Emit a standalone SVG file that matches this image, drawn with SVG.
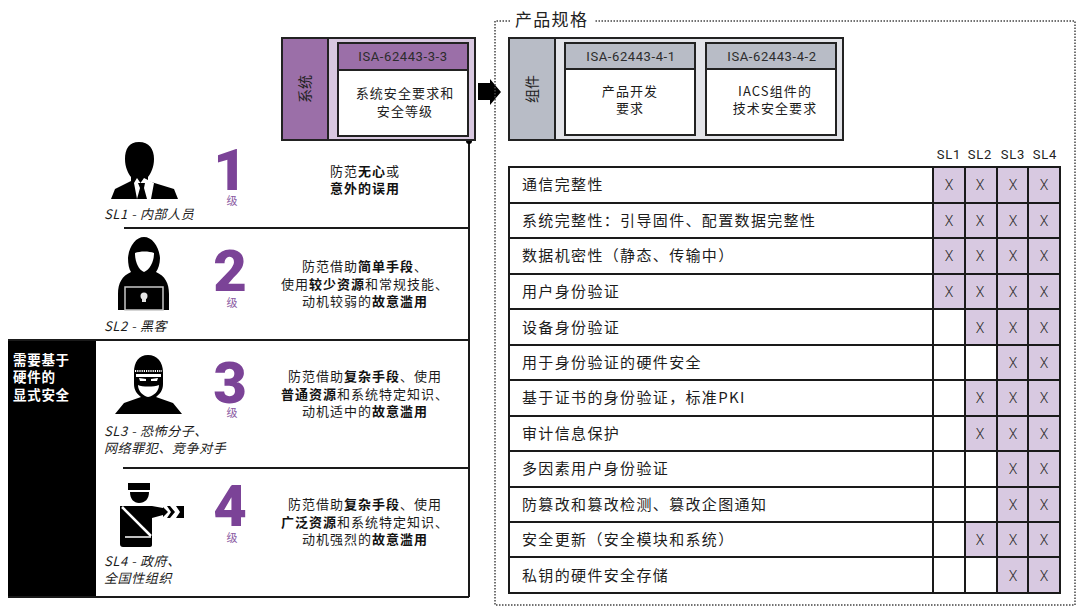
<svg xmlns="http://www.w3.org/2000/svg" width="1080" height="614" viewBox="0 0 1080 614">
<style>
text{font-family:"Noto Sans CJK SC","Liberation Sans",sans-serif;fill:#1c1c1c}
.b{font-weight:700;fill:#111}
.d{font-size:13px;letter-spacing:1px;text-anchor:middle}
.iso{font-family:Roboto,"Noto Sans CJK SC",sans-serif;font-size:13px;letter-spacing:.6px;text-anchor:middle;fill:#2c2c2c}
.box{font-size:13px;letter-spacing:1.100px;text-anchor:middle}
.row{font-size:15px;letter-spacing:1.350px}
.num{font-family:Roboto,Inter,sans-serif;font-weight:900;font-size:58px;fill:#7b4397;text-anchor:middle}
.lvl{font-size:11px;fill:#8a5aa2;text-anchor:middle}
.who{font-size:13px;font-style:italic;letter-spacing:.6px}
.sl{font-family:Roboto,sans-serif;font-size:13px;letter-spacing:.8px;text-anchor:middle;fill:#222}
.x{font-family:Roboto,sans-serif;font-size:14px;font-weight:300;text-anchor:middle;fill:#2c2c2c}
.ln{stroke:#1a1a1a;stroke-width:2;fill:none}
.cell{fill:#d8c9e1}
</style>

<g id="frame-left">
<rect x="8" y="340" width="88" height="257" fill="#000"/>
<path class="ln" d="M8 340H469M124 228H469M123 468H469M8 597H469M469 141V597"/>
<circle cx="469" cy="141" r="3" fill="#000"/>
<text x="13" y="365" style="font-size:13.500px;font-weight:700;fill:#fff;letter-spacing:.7px">需要基于</text>
<text x="13" y="382" style="font-size:13.500px;font-weight:700;fill:#fff;letter-spacing:.7px">硬件的</text>
<text x="13" y="400" style="font-size:13.500px;font-weight:700;fill:#fff;letter-spacing:.7px">显式安全</text>
</g>

<g id="system">
<rect x="282" y="38" width="193" height="102" fill="#d8c8e0" stroke="#222" stroke-width="2"/>
<rect x="282" y="38" width="46" height="102" fill="#9b6fa8" stroke="#222" stroke-width="2"/>
<text transform="translate(310 89) rotate(-90)" style="font-size:14px;text-anchor:middle;fill:#222">系统</text>
<rect x="338" y="43" width="130" height="93" fill="#fff" stroke="#222" stroke-width="2"/>
<rect x="338" y="43" width="130" height="27" fill="#9b6fa8" stroke="#222" stroke-width="2"/>
<text class="iso" x="403" y="61">ISA-62443-3-3</text>
<text class="box" x="405" y="98">系统安全要求和</text>
<text class="box" x="405" y="116">安全等级</text>
</g>

<g id="arrow">
<path d="M478 83H490V79L501 92L490 105V100H478Z" fill="#000"/>
</g>

<g id="spec-frame">
<path d="M510 21H495V605H1075V21H594" fill="none" stroke="#444" stroke-width="1.500" stroke-dasharray="1.500 1.500"/>
<text x="515" y="26" style="font-size:17px;letter-spacing:1.300px;fill:#222">产品规格</text>
</g>

<g id="component">
<rect x="509" y="38" width="334" height="102" fill="#e3e4e9" stroke="#222" stroke-width="2"/>
<rect x="509" y="38" width="46" height="102" fill="#b8bcc6" stroke="#222" stroke-width="2"/>
<text transform="translate(537 89) rotate(-90)" style="font-size:14px;text-anchor:middle;fill:#222">组件</text>
<rect x="565" y="43" width="130" height="92" fill="#fff" stroke="#222" stroke-width="2"/>
<rect x="565" y="43" width="130" height="26" fill="#b8bcc6" stroke="#222" stroke-width="2"/>
<text class="iso" x="631" y="61">ISA-62443-4-1</text>
<text class="box" x="630" y="96">产品开发</text>
<text class="box" x="630" y="113">要求</text>
<rect x="706" y="43" width="130" height="92" fill="#fff" stroke="#222" stroke-width="2"/>
<rect x="706" y="43" width="130" height="26" fill="#b8bcc6" stroke="#222" stroke-width="2"/>
<text class="iso" x="772" y="61">ISA-62443-4-2</text>
<text class="box" x="775" y="96">IACS组件的</text>
<text class="box" x="775" y="113">技术安全要求</text>
</g>

<g id="icon-sl1">
<path d="M139 142C149 142 154 149 154 159C154 167 151 173 148 177V181L174 189L178 199H111L115 189L131 181V177C128 173 125 167 125 159C125 149 129 142 139 142Z" fill="#000"/>
<path d="M136 178L139.500 183L143 178L153 183L150 199H136L133 183Z" fill="#fff" transform="translate(1 0)"/>
<path d="M137 183L144 183L143 188L146 199H136L139 188Z" fill="#000" transform="translate(1 0)"/>
<text class="who" x="104" y="219">SL1 - 内部人员</text>
</g>
<g id="icon-sl2">
<path d="M144 237C152 237 159 246 160 258C160 264 158 269 156 272C165 276 169 283 169 294V310H118V294C118 283 122 276 131 272C129 269 128 264 128 258C129 246 136 237 144 237Z" fill="#000"/>
<path d="M135 253C140 251 149 251 154 253C154 263 149 270 144 272C139 270 135 263 135 253Z" fill="#fff"/>
<rect x="125" y="287" width="38" height="23" fill="#000" stroke="#c8c8c8" stroke-width="1.500"/>
<circle cx="144" cy="296" r="3.500" fill="#e4e4e4"/>
<rect x="142" y="299" width="4" height="3" fill="#e4e4e4"/>
<text class="who" x="104" y="331">SL2 - 黑客</text>
</g>
<g id="icon-sl3">
<path d="M148 355C157 355 163 362 163 372V384C163 390 160 394 156 397L173 403L182 414H115L124 403L141 397C137 394 134 390 134 384V372C134 362 139 355 148 355Z" fill="#000"/>
<path d="M135 371H162" stroke="#fff" stroke-width="2" stroke-dasharray="1.200 1"/>
<path d="M136 374H161V377H136Z" fill="#fff"/>
<path d="M138 385C142 387 154 387 159 385C159 391 154 396 148 397C143 396 138 391 138 385Z" fill="#fff"/>
<path d="M139 378L146 379V381H140ZM151 379L158 378L157 381H151Z" fill="#fff"/>
<text class="who" x="104" y="436">SL3 - 恐怖分子、</text>
<text class="who" x="104" y="453">网络罪犯、竞争对手</text>
</g>
<g id="icon-sl4">
<path d="M128 483H150V490H128ZM130 492H149C149 499 145 503 139 503C134 503 130 499 130 492Z" fill="#000"/>
<path d="M120 506L152 506L163 508V515L152 518V545C152 546 151 547 150 547H123C121 547 120 546 120 544Z" fill="#000"/>
<path d="M122 507L151 536" stroke="#fff" stroke-width="2.500"/>
<path d="M125 537H151" stroke="#fff" stroke-width="1.500"/>
<path d="M163 507L168 512L163 517ZM167 506H170L175 512L170 518H167L171 512ZM176 506H184V518H176L180 512Z" fill="#000"/>
<text class="who" x="104" y="566">SL4 - 政府、</text>
<text class="who" x="104" y="583">全国性组织</text>
</g>

<g id="level-1">
<text class="num" x="230" y="190">1</text>
<text class="lvl" x="232" y="205">级</text>
<text class="d" x="365" y="176">防范<tspan class="b">无心</tspan>或</text>
<text class="d b" x="365" y="193">意外的误用</text>
</g>
<g id="level-2">
<text class="num" x="230" y="291">2</text>
<text class="lvl" x="232" y="307">级</text>
<text class="d" x="365" y="271">防范借助<tspan class="b">简单手段</tspan>、</text>
<text class="d" x="365" y="289">使用<tspan class="b">较少资源</tspan>和常规技能、</text>
<text class="d" x="365" y="306">动机较弱的<tspan class="b">故意滥用</tspan></text>
</g>
<g id="level-3">
<text class="num" x="230" y="403">3</text>
<text class="lvl" x="232" y="417">级</text>
<text class="d" x="365" y="381">防范借助<tspan class="b">复杂手段</tspan>、使用</text>
<text class="d" x="365" y="399"><tspan class="b">普通资源</tspan>和系统特定知识、</text>
<text class="d" x="365" y="416">动机适中的<tspan class="b">故意滥用</tspan></text>
</g>
<g id="level-4">
<text class="num" x="230" y="526">4</text>
<text class="lvl" x="232" y="542">级</text>
<text class="d" x="365" y="509">防范借助<tspan class="b">复杂手段</tspan>、使用</text>
<text class="d" x="365" y="527"><tspan class="b">广泛资源</tspan>和系统特定知识、</text>
<text class="d" x="365" y="544">动机强烈的<tspan class="b">故意滥用</tspan></text>
</g>

<g id="table">
<rect x="509" y="167" width="551" height="426" fill="#fff"/>
<path class="cell" d="M933 167H1060V309H933ZM965 309H1060V345H965ZM997 345H1060V380H997ZM965 380H1060V451H965ZM997 451H1060V522H997ZM965 522H1060V557H965ZM997 557H1060V593H997Z"/>
<path class="ln" d="M509 167H1060V593H509ZM509 203H1060M509 238H1060M509 274H1060M509 309H1060M509 345H1060M509 380H1060M509 416H1060M509 451H1060M509 487H1060M509 522H1060M509 557H1060M933 167V593M965 167V593M997 167V593M1028 167V593"/>
<text class="sl" x="949" y="159">SL1</text><text class="sl" x="980" y="159">SL2</text><text class="sl" x="1013" y="159">SL3</text><text class="sl" x="1045" y="159">SL4</text>
<text class="row" x="522" y="190">通信完整性</text>
<text class="row" x="522" y="226">系统完整性：引导固件、配置数据完整性</text>
<text class="row" x="522" y="261">数据机密性（静态、传输中）</text>
<text class="row" x="522" y="297">用户身份验证</text>
<text class="row" x="522" y="333">设备身份验证</text>
<text class="row" x="522" y="368">用于身份验证的硬件安全</text>
<text class="row" x="522" y="403">基于证书的身份验证，标准PKI</text>
<text class="row" x="522" y="439">审计信息保护</text>
<text class="row" x="522" y="474">多因素用户身份验证</text>
<text class="row" x="522" y="510">防篡改和篡改检测、篡改企图通知</text>
<text class="row" x="522" y="545">安全更新（安全模块和系统）</text>
<text class="row" x="522" y="581">私钥的硬件安全存储</text>
<text class="x" x="949" y="190">X</text><text class="x" x="980" y="190">X</text><text class="x" x="1013" y="190">X</text><text class="x" x="1044" y="190">X</text>
<text class="x" x="949" y="226">X</text><text class="x" x="980" y="226">X</text><text class="x" x="1013" y="226">X</text><text class="x" x="1044" y="226">X</text>
<text class="x" x="949" y="261">X</text><text class="x" x="980" y="261">X</text><text class="x" x="1013" y="261">X</text><text class="x" x="1044" y="261">X</text>
<text class="x" x="949" y="297">X</text><text class="x" x="980" y="297">X</text><text class="x" x="1013" y="297">X</text><text class="x" x="1044" y="297">X</text>
<text class="x" x="980" y="333">X</text><text class="x" x="1013" y="333">X</text><text class="x" x="1044" y="333">X</text>
<text class="x" x="1013" y="368">X</text><text class="x" x="1044" y="368">X</text>
<text class="x" x="980" y="403">X</text><text class="x" x="1013" y="403">X</text><text class="x" x="1044" y="403">X</text>
<text class="x" x="980" y="439">X</text><text class="x" x="1013" y="439">X</text><text class="x" x="1044" y="439">X</text>
<text class="x" x="1013" y="474">X</text><text class="x" x="1044" y="474">X</text>
<text class="x" x="1013" y="510">X</text><text class="x" x="1044" y="510">X</text>
<text class="x" x="980" y="545">X</text><text class="x" x="1013" y="545">X</text><text class="x" x="1044" y="545">X</text>
<text class="x" x="1013" y="581">X</text><text class="x" x="1044" y="581">X</text>
</g>
</svg>
